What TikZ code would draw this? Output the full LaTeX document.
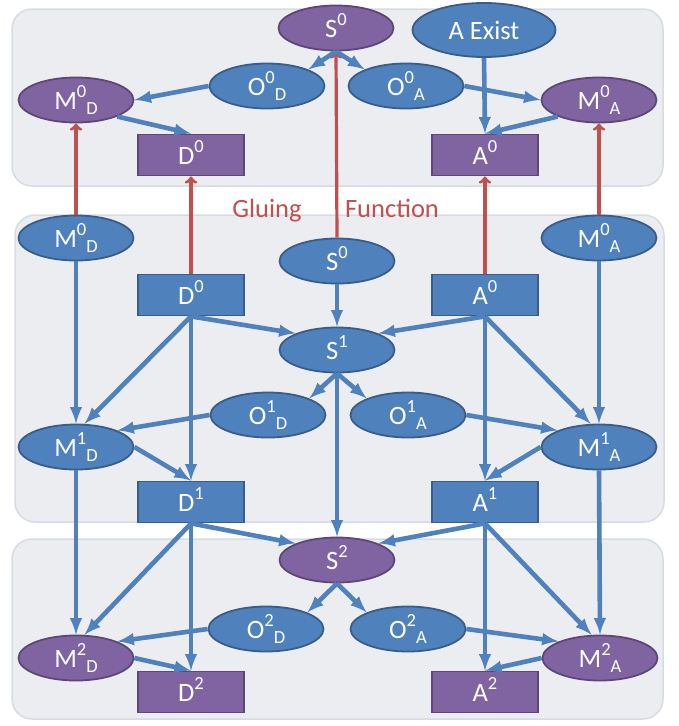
\documentclass[tikz,border=0pt]{standalone}
\usepackage{fontspec}
\setmainfont{Carlito}
\usepackage{tikz}
\usetikzlibrary{shapes.geometric, arrows, positioning}
\definecolor{gl_blue}{HTML}{4F81BD}
\definecolor{gl_blueline}{HTML}{385D8A}
\definecolor{gl_purple}{HTML}{8064A2}
\definecolor{gl_purpleline}{HTML}{5C4776}
\definecolor{gl_red}{HTML}{C0504D}
\definecolor{gl_panel}{HTML}{EBEDF1}
\definecolor{gl_panelline}{HTML}{D7DBE3}
\newcommand{\nodefont}{\fontsize{26.5}{30}\selectfont}
\newcommand{\stage}[3]{#1\raisebox{0.45em}{\fontsize{18.5}{20}\selectfont #2}\raisebox{-0.17em}{\fontsize{18.5}{20}\selectfont #3}}
\tikzset{
  ellblue/.style={ellipse,draw=gl_blueline,line width=1.8pt,fill=gl_blue,text=white,minimum width=115pt,minimum height=45pt,inner sep=0pt,font=\nodefont},
  ellpurple/.style={ellblue,draw=gl_purpleline,fill=gl_purple},
  recblue/.style={rectangle,draw=gl_blueline,line width=1.8pt,fill=gl_blue,text=white,minimum width=106pt,minimum height=41pt,inner sep=0pt,font=\nodefont},
  recpurple/.style={recblue,draw=gl_purpleline,fill=gl_purple},
  flow/.style={line width=4.6pt,-{latex[scale=0.8]},gl_blue},
  glue/.style={line width=3.2pt,-{to[scale=1.3]},gl_red},
  gluelbl/.style={text=gl_red,font=\nodefont,inner sep=0pt,anchor=base},
  panel/.style={draw=gl_panelline,line width=1.5pt,fill=gl_panel,rounded corners=20pt},
}
\pgfdeclarelayer{back}
\pgfsetlayers{back,main}

\begin{document}
\begin{tikzpicture}[x=1pt,y=-1pt]
	\useasboundingbox (0,0) rectangle (678,726);
	\begin{pgfonlayer}{back}
	    \draw[panel] (12,9) rectangle (663,186);
	    \draw[panel] (15,215) rectangle (664,522);
	    \draw[panel] (12,539) rectangle (663,719);
	\end{pgfonlayer}
	% stage 0
	\node[ellpurple] (S0t) at (336,28) {\stage{S}{0}{}};
	\node[ellblue,minimum width=143pt,minimum height=54pt] (Aex) at (484,30) {A Exist};
	\node[ellblue] (O0D) at (267,86) {\stage{O}{0}{D}};
	\node[ellblue] (O0A) at (406,86) {\stage{O}{0}{A}};
	\node[ellpurple] (M0Dt) at (76,100) {\stage{M}{0}{D}};
	\node[ellpurple] (M0At) at (599,100) {\stage{M}{0}{A}};
	\node[recpurple] (D0t) at (191,155) {\stage{D}{0}{}};
	\node[recpurple] (A0t) at (485,155) {\stage{A}{0}{}};
	% stage 1
	\node[ellblue] (M0Dm) at (76,238) {\stage{M}{0}{D}};
	\node[ellblue] (M0Am) at (599,238) {\stage{M}{0}{A}};
	\node[ellblue] (S0m) at (337,261) {\stage{S}{0}{}};
	\node[recblue] (D0m) at (191,295) {\stage{D}{0}{}};
	\node[recblue] (A0m) at (485,295) {\stage{A}{0}{}};
	\node[ellblue] (S1) at (337,350) {\stage{S}{1}{}};
	\node[ellblue] (O1D) at (268,415) {\stage{O}{1}{D}};
	\node[ellblue] (O1A) at (408,415) {\stage{O}{1}{A}};
	\node[ellblue] (M1D) at (76,447) {\stage{M}{1}{D}};
	\node[ellblue] (M1A) at (599,447) {\stage{M}{1}{A}};
	\node[recblue] (D1) at (191,502) {\stage{D}{1}{}};
	\node[recblue] (A1) at (485,502) {\stage{A}{1}{}};
	% stage 2
	\node[ellpurple] (S2) at (337,560) {\stage{S}{2}{}};
	\node[ellblue] (O2D) at (266,629) {\stage{O}{2}{D}};
	\node[ellblue] (O2A) at (408,629) {\stage{O}{2}{A}};
	\node[ellpurple] (M2D) at (76,658) {\stage{M}{2}{D}};
	\node[ellpurple] (M2A) at (600,658) {\stage{M}{2}{A}};
	\node[recpurple] (D2) at (191,692) {\stage{D}{2}{}};
	\node[recpurple] (A2) at (485,692) {\stage{A}{2}{}};
	% gluing
	\node[gluelbl] (glueA) at (267,217) {Gluing};
	\node[gluelbl] (glueB) at (392,217) {Function};
	\draw[glue] (M0Dm.north) -- (M0Dt.south);
	\draw[glue] (D0m.north) -- (D0t.south);
	\draw[glue] (S0m.north) -- (S0t.south);
	\draw[glue] (A0m.north) -- (A0t.south);
	\draw[glue] (M0Am.north) -- (M0At.south);
	% edges stage 0
	\draw[flow] (S0t.south) -- (O0D.north east);
	\draw[flow] (S0t.south) -- (O0A.north west);
	\draw[flow] (O0D.west) -- (M0Dt.east);
	\draw[flow] (O0A.east) -- (M0At.west);
	\draw[flow] (M0Dt.south east) -- (D0t.north);
	\draw[flow] (M0At.south west) -- (A0t.north);
	\draw[flow] (Aex.south) -- (A0t.north);
	% edges stage 1
	\draw[flow] (M0Dm.south) -- (M1D.north);
	\draw[flow] (M0Am.south) -- (M1A.north);
	\draw[flow] (S0m.south) -- (S1.north);
	\draw[flow] (D0m.south) -- (S1.north west);
	\draw[flow] (A0m.south) -- (S1.north east);
	\draw[flow] (D0m.south) -- (M1D.70);
	\draw[flow] (D0m.south) -- (D1.north);
	\draw[flow] (A0m.south) -- (M1A.110);
	\draw[flow] (A0m.south) -- (A1.north);
	\draw[flow] (S1.south) -- (O1D.north east);
	\draw[flow] (S1.south) -- (O1A.north west);
	\draw[flow] (O1D.west) -- (M1D.north east);
	\draw[flow] (O1A.east) -- (M1A.north west);
	\draw[flow] (M1D.east) -- (D1.north);
	\draw[flow] (M1A.west) -- (A1.north);
	% edges stage 2
	\draw[flow] (S1.south) -- (S2.north);
	\draw[flow] (D1.south) -- (S2.north west);
	\draw[flow] (A1.south) -- (S2.north east);
	\draw[flow] (D1.south) -- (M2D.70);
	\draw[flow] (D1.south) -- (D2.north);
	\draw[flow] (A1.south) -- (M2A.110);
	\draw[flow] (A1.south) -- (A2.north);
	\draw[flow] (M1D.south) -- (M2D.north);
	\draw[flow] (M1A.south) -- (M2A.north);
	\draw[flow] (S2.south) -- (O2D.north east);
	\draw[flow] (S2.south) -- (O2A.north west);
	\draw[flow] (O2D.west) -- (M2D.north east);
	\draw[flow] (O2A.east) -- (M2A.north west);
	\draw[flow] (M2D.east) -- (D2.north);
	\draw[flow] (M2A.west) -- (A2.north);
\end{tikzpicture}
\end{document}
